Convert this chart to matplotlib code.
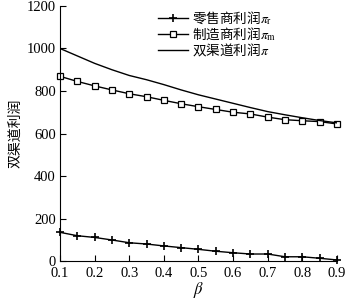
import matplotlib.pyplot as plt

plt.rcParams['font.family'] = ['Liberation Serif', 'Noto Sans CJK SC']
plt.rcParams['mathtext.fontset'] = 'stix'

# beta values and profits
beta = [0.1, 0.15, 0.2, 0.25, 0.3, 0.35, 0.4, 0.45, 0.5,
        0.55, 0.6, 0.65, 0.7, 0.75, 0.8, 0.85, 0.9]
retailer = [135, 119, 111, 99, 86, 80, 71, 63, 55,
            46, 39, 33, 33, 20, 20, 13, 5]
manufacturer = [869, 845, 824, 805, 787, 773, 756, 740, 726,
                713, 700, 692, 677, 665, 660, 656, 645]
dual = [1000, 965, 930, 900, 873, 853, 830, 805, 782,
        762, 742, 722, 703, 688, 674, 661, 650]

xticks = [0.1, 0.2, 0.3, 0.4, 0.5, 0.6, 0.7, 0.8, 0.9]
yticks = [0, 200, 400, 600, 800, 1000, 1200]

fig = plt.figure(figsize=(3.51, 2.99), dpi=100)
ax = fig.add_axes([0.171, 0.127, 0.789, 0.853])

ax.plot(beta, retailer, color='black', linewidth=1, marker='+',
        markersize=6, markeredgewidth=1.2, clip_on=False,
        label=r'零售商利润$\pi_{\rm r}$')
ax.plot(beta, manufacturer, color='black', linewidth=1, marker='s',
        markersize=5, markerfacecolor='white', markeredgewidth=0.9,
        clip_on=False, label=r'制造商利润$\pi_{\rm m}$')
ax.plot(beta, dual, color='black', linewidth=1, label=r'双渠道利润$\pi$')

ax.set_xlim(0.1, 0.9)
ax.set_ylim(0, 1200)
ax.set_xticks(xticks)
ax.set_yticks(yticks)
ax.set_xticklabels([f'{v:.1f}' for v in xticks])
ax.tick_params(direction='in', length=4, labelsize=10.5, width=0.8)
ax.tick_params(axis='x', pad=4)
ax.tick_params(axis='y', pad=3)
ax.spines['top'].set_visible(False)
ax.spines['right'].set_visible(False)

ax.set_xlabel(r'$\beta$', fontsize=12, labelpad=0)
ax.set_ylabel('双渠道利润', fontsize=10, family=['Noto Sans CJK SC'], labelpad=3)

ax.legend(loc='upper left', bbox_to_anchor=(0.31, 1.035), frameon=False,
          handlelength=2.2, handletextpad=0.3, labelspacing=-0.12,
          prop={'family': ['Noto Sans CJK SC'], 'size': 9.8})

fig.savefig('out.png', dpi=100)
